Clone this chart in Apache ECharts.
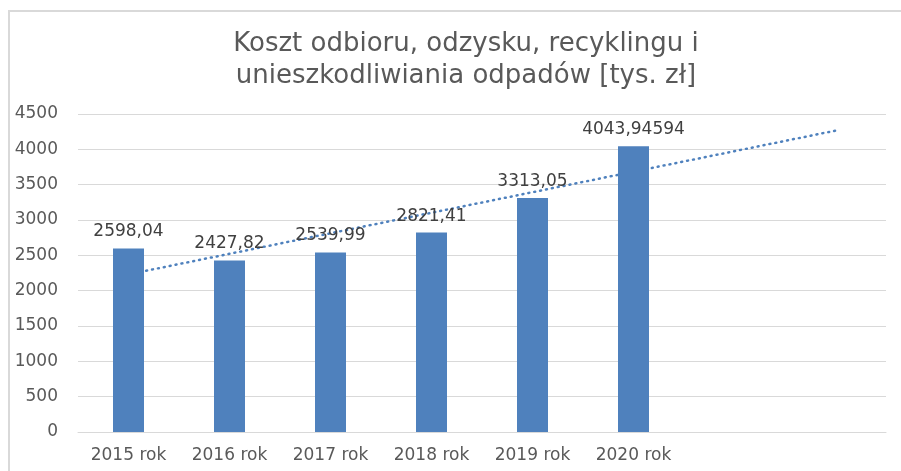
<!DOCTYPE html>
<html>
<head>
<meta charset="utf-8">
<script src="https://cdn.jsdelivr.net/npm/echarts@6/dist/echarts.min.js"></script>
<style>
  html, body { margin: 0; padding: 0; background: #fff; }
  #main { width: 901px; height: 471px; }
</style>
</head>
<body>
<div id="main"></div>
<script>
// categories incl. two empty slots on the right (forecast area of the trendline)
var categories = ['2015 rok', '2016 rok', '2017 rok', '2018 rok', '2019 rok', '2020 rok', '', '']
var costValues = [2598.04, 2427.82, 2539.99, 2821.41, 3313.05, 4043.94594]
var yTicks = { min: 0, max: 4500, interval: 500 }

// linear trendline (least squares over the known years), extended 2 periods forward
function linearTrend(values, total) {
  var n = values.length
  var sx = 0, sy = 0, sxy = 0, sxx = 0
  values.forEach(function(v, i) {
    var x = i + 1
    sx += x; sy += v; sxy += x * v; sxx += x * x
  })
  var slope = (n * sxy - sx * sy) / (n * sxx - sx * sx)
  var icpt = (sy - slope * sx) / n
  var out = []
  for (var i = 0; i < total; i++) out.push(icpt + slope * (i + 1))
  return out
}
var trendValues = linearTrend(costValues, categories.length)

var myChart = echarts.init(document.getElementById('main'))
var option = {
  animation: false,
  color: ['#4f81bd'],
  textStyle: { fontFamily: 'DejaVu Sans' },
  title: {
    text: 'Koszt odbioru, odzysku, recyklingu i\nunieszkodliwiania odpadów [tys. zł]',
    left: 461,
    textAlign: 'center',
    top: 23,
    textStyle: {
      fontFamily: 'DejaVu Sans',
      fontSize: 26,
      fontWeight: 'normal',
      color: '#595959',
      lineHeight: 32
    }
  },
  // chart frame: only left and top edges are visible in the picture
  graphic: [
    {
      type: 'line',
      shape: { x1: 9, y1: 11, x2: 9, y2: 471 },
      style: { stroke: '#d9d9d9', lineWidth: 2 },
      silent: true
    },
    {
      type: 'line',
      shape: { x1: 8, y1: 11, x2: 901, y2: 11 },
      style: { stroke: '#d9d9d9', lineWidth: 2 },
      silent: true
    }
  ],
  grid: {
    left: 78,
    right: 15,
    top: 114,
    bottom: 39
  },
  xAxis: {
    type: 'category',
    data: categories,
    axisLine: { show: true, lineStyle: { color: '#d9d9d9', width: 1 } },
    axisTick: { show: false },
    axisLabel: {
      interval: 0,
      margin: 15,
      fontFamily: 'DejaVu Sans',
      fontSize: 17,
      color: '#595959'
    }
  },
  yAxis: {
    type: 'value',
    min: yTicks.min,
    max: yTicks.max,
    interval: yTicks.interval,
    axisLine: { show: false },
    axisTick: { show: false },
    axisLabel: {
      margin: 20,
      fontFamily: 'DejaVu Sans',
      fontSize: 17,
      color: '#595959',
      formatter: function(v) { return String(v) }
    },
    splitLine: { lineStyle: { color: '#d9d9d9', width: 1 } }
  },
  series: [
    {
      name: 'Trend',
      type: 'line',
      data: trendValues,
      symbol: 'none',
      z: 1,
      lineStyle: { color: '#4f81bd', width: 2.5, type: [1, 5], cap: 'round' }
    },
    {
      name: 'Koszt',
      type: 'bar',
      data: costValues,
      barWidth: 31,
      z: 2,
      itemStyle: { color: '#4f81bd' },
      label: {
        show: true,
        position: 'top',
        distance: 8,
        fontFamily: 'DejaVu Sans',
        fontSize: 17,
        color: '#404040',
        formatter: function(p) {
          return String(p.value).replace('.', ',')
        }
      }
    }
  ]
}
myChart.setOption(option)
</script>
</body>
</html>
